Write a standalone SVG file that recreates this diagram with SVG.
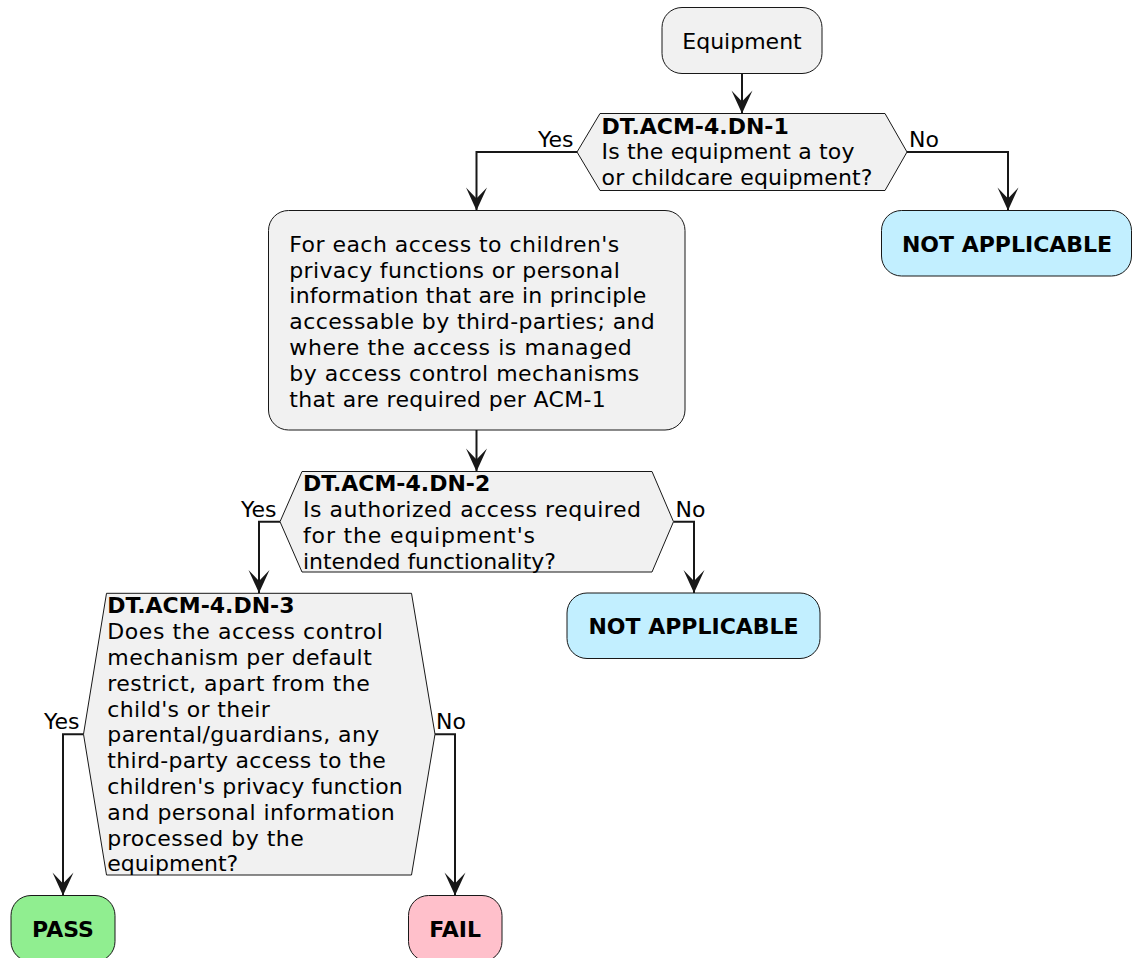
<svg xmlns="http://www.w3.org/2000/svg" width="1132" height="958" viewBox="0 0 1132 958">
  <style>
    text { font-family: "DejaVu Sans", "Liberation Sans", sans-serif; font-size: 22px; fill: #000000; }
    .b { font-weight: bold; }
    .mid { text-anchor: middle; }
    .end { text-anchor: end; }
    .box { fill: #F1F1F1; stroke: #181818; stroke-width: 1; }
    .na { fill: #C2EFFF; stroke: #181818; stroke-width: 1; }
    .pass { fill: #90EE90; stroke: #181818; stroke-width: 1; }
    .fail { fill: #FFC0CB; stroke: #181818; stroke-width: 1; }
    .edge { fill: none; stroke: #181818; stroke-width: 2; }
  </style>
  <defs>
    <!-- notched arrowhead, tip at the path end -->
    <marker id="arrow" markerUnits="userSpaceOnUse" viewBox="-24 -11 25 22" refX="0" refY="0" markerWidth="25" markerHeight="22" orient="auto" overflow="visible">
      <path d="M -23 -10.5 L 0 0 L -23 10.5 L -12 0 Z" fill="#181818"/>
    </marker>
  </defs>

  <!-- connectors -->
  <g id="connectors">
    <path class="edge" d="M 742 73.5 L 742 113.5" marker-end="url(#arrow)"/>
    <path class="edge" d="M 577 152 L 476.5 152 L 476.5 210.5" marker-end="url(#arrow)"/>
    <path class="edge" d="M 907 152 L 1008 152 L 1008 210.5" marker-end="url(#arrow)"/>
    <path class="edge" d="M 476.5 430 L 476.5 471.5" marker-end="url(#arrow)"/>
    <path class="edge" d="M 280 521.7 L 259 521.7 L 259 593" marker-end="url(#arrow)"/>
    <path class="edge" d="M 673.5 521.7 L 694 521.7 L 694 593" marker-end="url(#arrow)"/>
    <path class="edge" d="M 83.5 734.2 L 63 734.2 L 63 895.5" marker-end="url(#arrow)"/>
    <path class="edge" d="M 435 734.2 L 455 734.2 L 455 895.5" marker-end="url(#arrow)"/>
    <text class="end" x="573.5" y="146.7">Yes</text>
    <text x="909" y="146.7">No</text>
    <text class="end" x="276.5" y="516.7">Yes</text>
    <text x="675.5" y="516.7">No</text>
    <text class="end" x="79.5" y="729.2">Yes</text>
    <text x="436" y="729.2">No</text>
  </g>

  <g id="start">
    <rect class="box" x="662" y="7.5" width="160" height="66" rx="20" ry="20"/>
    <text class="mid" x="742" y="48.5">Equipment</text>
  </g>

  <g id="dn1">
    <polygon class="box" points="577,152 600,113.5 885,113.5 907,152 885,190.5 600,190.5"/>
    <text class="b" x="601.5" y="133.5">DT.ACM-4.DN-1</text>
    <text x="601.5" y="159.3" textLength="253" lengthAdjust="spacing">Is the equipment a toy</text>
    <text x="601.5" y="185.1" textLength="271" lengthAdjust="spacing">or childcare equipment?</text>
  </g>

  <g id="na1">
    <rect class="na" x="881.5" y="210.5" width="250" height="65.5" rx="20" ry="20"/>
    <text class="b mid" x="1007" y="251.7">NOT APPLICABLE</text>
  </g>

  <g id="scope">
    <rect class="box" x="268.5" y="210.5" width="416.5" height="219.5" rx="20" ry="20"/>
    <text x="289.3" y="251.7" textLength="330" lengthAdjust="spacing">For each access to children's</text>
    <text x="289.3" y="277.5" textLength="330.5" lengthAdjust="spacing">privacy functions or personal</text>
    <text x="289.3" y="303.3" textLength="357" lengthAdjust="spacing">information that are in principle</text>
    <text x="289.3" y="329.1" textLength="365.5" lengthAdjust="spacing">accessable by third-parties; and</text>
    <text x="289.3" y="354.9" textLength="342.5" lengthAdjust="spacing">where the access is managed</text>
    <text x="289.3" y="380.7" textLength="350" lengthAdjust="spacing">by access control mechanisms</text>
    <text x="289.3" y="406.5" textLength="316.5" lengthAdjust="spacing">that are required per ACM-1</text>
  </g>

  <g id="dn2">
    <polygon class="box" points="280,521.7 302,471.5 652,471.5 673.5,521.7 652,572 302,572"/>
    <text class="b" x="303" y="491.3">DT.ACM-4.DN-2</text>
    <text x="303" y="517.1" textLength="338" lengthAdjust="spacing">Is authorized access required</text>
    <text x="303" y="542.9" textLength="232" lengthAdjust="spacing">for the equipment's</text>
    <text x="303" y="568.7" textLength="253" lengthAdjust="spacing">intended functionality?</text>
  </g>

  <g id="na2">
    <rect class="na" x="567" y="593" width="253" height="65.5" rx="20" ry="20"/>
    <text class="b mid" x="693.5" y="633.5">NOT APPLICABLE</text>
  </g>

  <g id="dn3">
    <polygon class="box" points="83.5,734.2 106.5,593.3 411.5,593.3 435,734.2 411.5,875 106.5,875"/>
    <text class="b" x="107.3" y="613.3">DT.ACM-4.DN-3</text>
    <text x="107.3" y="639.1" textLength="275.5" lengthAdjust="spacing">Does the access control</text>
    <text x="107.3" y="664.9" textLength="264.5" lengthAdjust="spacing">mechanism per default</text>
    <text x="107.3" y="690.7" textLength="262.5" lengthAdjust="spacing">restrict, apart from the</text>
    <text x="107.3" y="716.5" textLength="162.5" lengthAdjust="spacing">child's or their</text>
    <text x="107.3" y="742.3" textLength="272" lengthAdjust="spacing">parental/guardians, any</text>
    <text x="107.3" y="768.1" textLength="278.5" lengthAdjust="spacing">third-party access to the</text>
    <text x="107.3" y="793.9" textLength="295.5" lengthAdjust="spacing">children's privacy function</text>
    <text x="107.3" y="819.7" textLength="287.5" lengthAdjust="spacing">and personal information</text>
    <text x="107.3" y="845.5" textLength="196.5" lengthAdjust="spacing">processed by the</text>
    <text x="107.3" y="871.3" textLength="131" lengthAdjust="spacing">equipment?</text>
  </g>

  <g id="pass">
    <rect class="pass" x="11" y="895.5" width="104" height="66" rx="20" ry="20"/>
    <text class="b mid" x="63" y="937">PASS</text>
  </g>

  <g id="fail">
    <rect class="fail" x="408.5" y="895.5" width="93.5" height="66" rx="20" ry="20"/>
    <text class="b mid" x="455.2" y="937">FAIL</text>
  </g>
</svg>
